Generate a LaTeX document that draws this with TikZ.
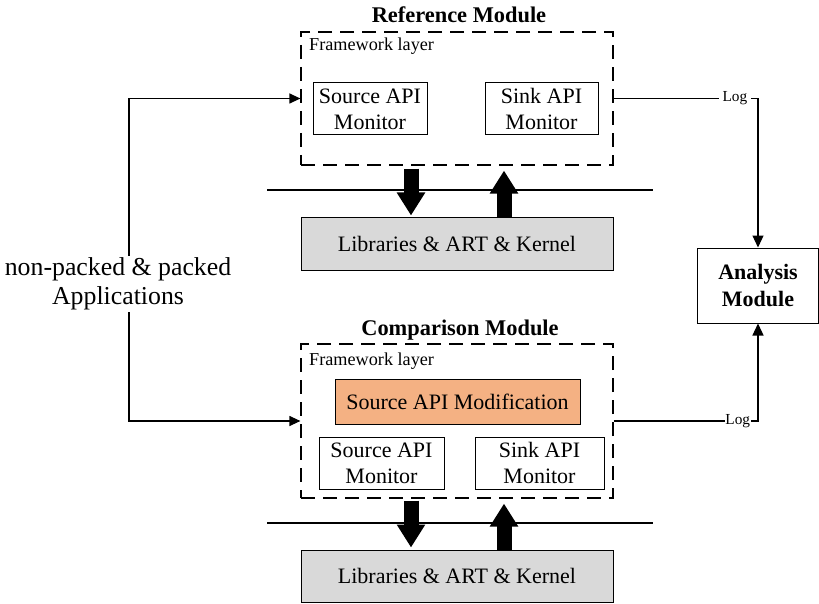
\documentclass[tikz,border=0pt]{standalone}
\usepackage{fontspec}
\setmainfont{Liberation Serif}
\usetikzlibrary{arrows.meta,calc}
\definecolor{modfill}{HTML}{F4B183}
\definecolor{libfill}{HTML}{D9D9D9}
\begin{document}
\begin{tikzpicture}[x=1pt,y=-1pt,
  layerbox/.style={draw, line width=1.2pt, dash pattern=on 14pt off 8pt, inner sep=0pt},
  unitbox/.style={draw, line width=1pt, inner sep=0pt, align=center,
    font=\fontsize{22}{26}\selectfont},
  title/.style={font=\bfseries\fontsize{22.4}{26}\selectfont, inner sep=0pt},
  layertext/.style={font=\fontsize{18.2}{21}\selectfont, anchor=west, inner sep=0pt},
  arr/.style={line width=1.2pt, -{Triangle[length=11pt,width=10pt]}},
  bigarr/.style={line width=15pt, line cap=butt, -{Triangle[length=23pt,width=27pt]}},
  loglabel/.style={fill=white, inner sep=1.5pt, font=\fontsize{15.3}{17}\selectfont}
]
\useasboundingbox (0,0) rectangle (819,604);

% Reference module
\node[title] (reftitle) at (459,15) {Reference Module};
\node[layerbox, minimum width=312pt, minimum height=133pt] (ref) at (457,98.5) {};
\node[layertext] (reffw) at (309,46) {Framework layer};
\node[unitbox, minimum width=114pt, minimum height=52pt] (src1) at (370,109) {Source API\\Monitor};
\node[unitbox, minimum width=113pt, minimum height=52pt] (sink1) at (541.5,109) {Sink API\\Monitor};
\node[unitbox, fill=libfill, minimum width=312pt, minimum height=52pt] (lib1) at (457,244) {Libraries \& ART \& Kernel};

% Comparison module
\node[title] (cmptitle) at (460,330) {Comparison Module};
\node[layerbox, minimum width=312pt, minimum height=154pt] (cmp) at (457,421) {};
\node[layertext] (cmpfw) at (309,361) {Framework layer};
\node[unitbox, fill=modfill, minimum width=245pt, minimum height=45pt] (mod) at (457.5,401.5) {Source API Modification};
\node[unitbox, minimum width=125pt, minimum height=52pt] (src2) at (381.5,463) {Source API\\Monitor};
\node[unitbox, minimum width=129pt, minimum height=52pt] (sink2) at (539.5,463) {Sink API\\Monitor};
\node[unitbox, fill=libfill, minimum width=312pt, minimum height=52pt] (lib2) at (457,576) {Libraries \& ART \& Kernel};

% Analysis module
\node[unitbox, font=\bfseries\fontsize{22}{27}\selectfont, minimum width=121pt, minimum height=75pt] (ana) at (758,285.5) {Analysis\\Module};

% Layer boundaries
\coordinate (div1a) at (267,190);
\coordinate (div1b) at (653,190);
\coordinate (div2a) at (267,523);
\coordinate (div2b) at (653,523);
\draw[line width=1.2pt] (div1a) -- (div1b);
\draw[line width=1.2pt] (div2a) -- (div2b);

% Calls between framework and lower layers
\coordinate (dn) at (411,0);
\coordinate (up) at (504,0);
\draw[bigarr, shorten <=3pt, shorten >=2pt] (ref.south -| dn) -- (lib1.north -| dn);
\draw[bigarr, shorten >=5pt] (lib1.north -| up) -- (ref.south -| up);
\draw[bigarr, shorten <=2pt, shorten >=2pt] (cmp.south -| dn) -- (lib2.north -| dn);
\draw[bigarr, shorten >=5pt] (lib2.north -| up) -- (cmp.south -| up);

% Applications fed into both modules
\coordinate (split) at (129,284);
\draw[arr] (split) |- (ref.west);
\draw[arr] (split) |- (cmp.west);
\node[fill=white, inner sep=2pt, align=center, font=\fontsize{25.8}{29}\selectfont] (apps) at (118,284) {non-packed \& packed\\Applications};

% Logs to the analysis module
\draw[arr, -{Triangle[length=12pt,width=11pt]}] (ref.east) -| node[loglabel, pos=0.42, inner xsep=4pt] (log1) {Log} (ana.north);
\draw[arr, -{Triangle[length=12pt,width=11pt]}] (cmp.east) -| node[loglabel, pos=0.43, inner sep=0.5pt] (log2) {Log} (ana.south);
\end{tikzpicture}
\end{document}
